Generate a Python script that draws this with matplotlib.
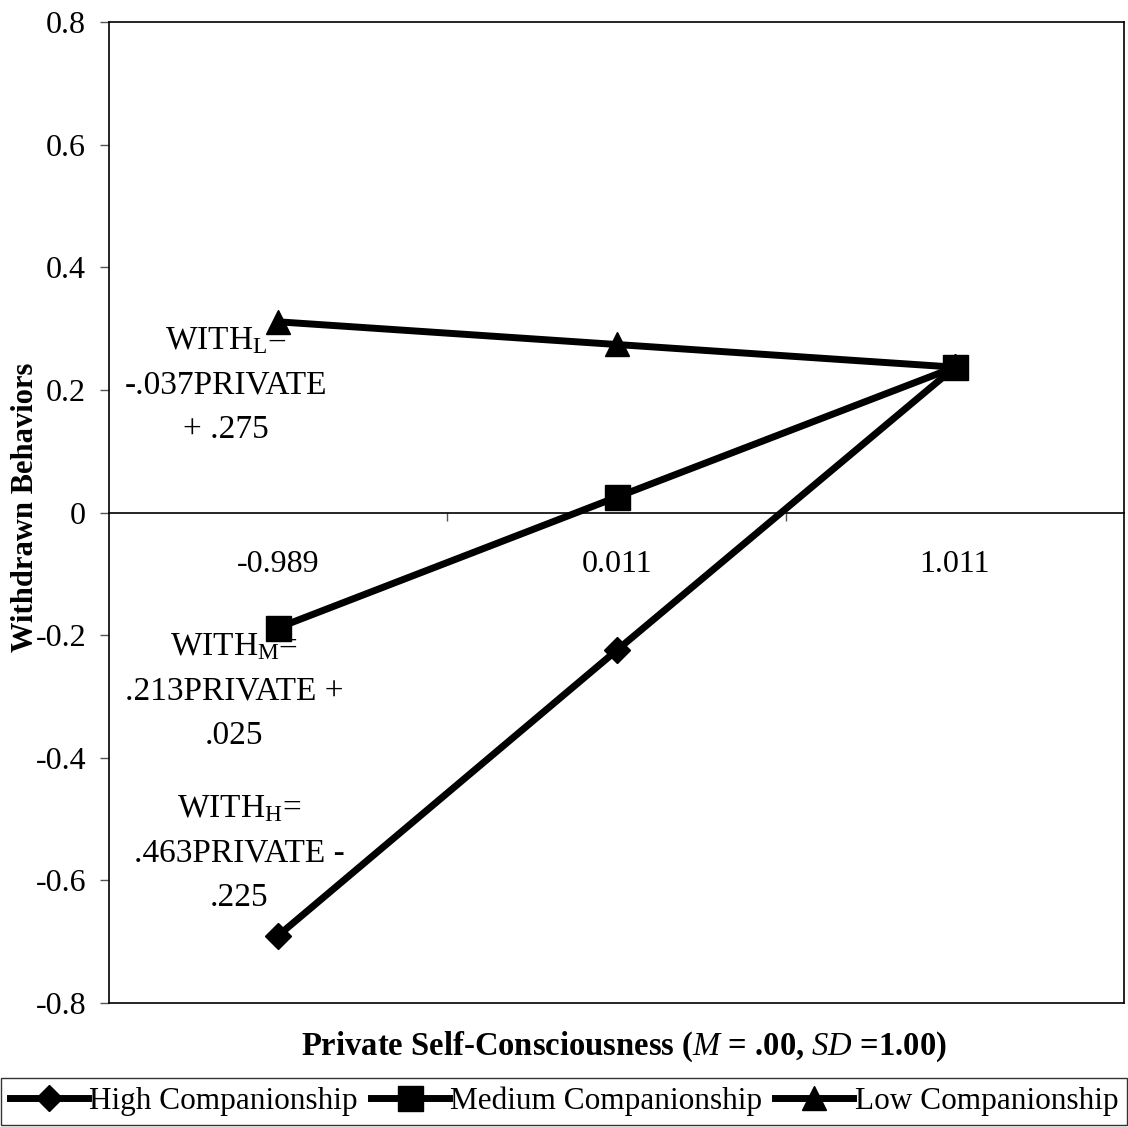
#!/usr/bin/env python3
# -*- coding: utf-8 -*-
#
# plot.py -- simple slopes of withdrawn behaviors by companionship level

import matplotlib
matplotlib.use("Agg")
from matplotlib import pyplot
from matplotlib.ticker import FixedLocator

pyplot.rcParams["font.family"] = ["Liberation Serif", "DejaVu Serif"]
pyplot.rcParams["mathtext.fontset"] = "custom"
pyplot.rcParams["mathtext.rm"] = "Liberation Serif"
pyplot.rcParams["mathtext.it"] = "Liberation Serif:italic"
pyplot.rcParams["mathtext.bf"] = "Liberation Serif:bold"

# --------------------------------------------------------------------------

levels = ["-0.989", "0.011", "1.011"]
high = [-0.690, -0.225, 0.237]
medium = [-0.188, 0.025, 0.237]
low = [0.311, 0.274, 0.237]

yticks = [-0.8, -0.6, -0.4, -0.2, 0.0, 0.2, 0.4, 0.6, 0.8]
yticklabels = ["-0.8", "-0.6", "-0.4", "-0.2", "0", "0.2", "0.4", "0.6", "0.8"]

equations = [
    ("WITH$_\\mathrm{L}$=\n-.037PRIVATE\n+ .275", -0.154, 0.208),
    ("WITH$_\\mathrm{M}$=\n.213PRIVATE +\n.025", -0.130, -0.291),
    ("WITH$_\\mathrm{H}$=\n.463PRIVATE -\n.225", -0.115, -0.556),
]

FS = 23
FS_TXT = 24
FS_LAB = 23.5
FS_LEG = 22.5

# --------------------------------------------------------------------------

fig = pyplot.figure(figsize=(11.28, 11.27), dpi=100)
ax = fig.add_axes([0.0966, 0.110, 0.9, 0.8705])

x = list(range(len(levels)))
ax.plot(x, low, color="black", lw=5, marker="^", ms=17, label="Low Companionship", zorder=2)
ax.plot(x, high, color="black", lw=5, marker="D", ms=13, label="High Companionship", zorder=3)
ax.plot(x, medium, color="black", lw=5, marker="s", ms=18, label="Medium Companionship", zorder=4)

ax.set_xlim(-0.5, 2.5)
ax.set_ylim(-0.8, 0.8)

# category axis sits on the zero line, box is closed at the bottom separately
ax.spines["bottom"].set_position(("data", 0))
ax.axhline(-0.8, color="black", lw=1.2, clip_on=False)
for s in ax.spines.values():
    s.set_linewidth(1.2)

ax.set_xticks(x)
ax.set_xticklabels(levels, fontsize=FS)
ax.xaxis.set_minor_locator(FixedLocator([0.5, 1.5]))
ax.tick_params(axis="x", which="major", length=0, pad=27)
ax.tick_params(axis="x", which="minor", direction="out", length=6, width=1, color="#555555")

ax.set_yticks(yticks)
ax.set_yticklabels(yticklabels, fontsize=FS)
ax.tick_params(axis="y", direction="out", length=6.5, width=1, color="#555555", pad=10)

fig.text(26/1128, 1 - 507/1127, "Withdrawn Behaviors", fontsize=22, fontweight="bold",
         rotation=90, ha="center", va="center")
fig.text(624/1128, 1 - 1047/1127, "Private Self-Consciousness ($\\mathbf{\\mathit{M}}$ = .00, $\\mathbf{\\mathit{SD}}$ =1.00)",
         fontsize=FS_LAB, fontweight="bold", ha="center", va="center")

for txt, tx, ty in equations:
    ax.text(tx, ty, txt, fontsize=FS_TXT, ha="center", va="center", linespacing=1.6, multialignment="center")

handles, labels = ax.get_legend_handles_labels()
order = [labels.index(n) for n in ["High Companionship", "Medium Companionship", "Low Companionship"]]
leg = fig.legend([handles[i] for i in order], [labels[i] for i in order],
                 loc="center", bbox_to_anchor=(0.5, 1 - 1101/1127), ncol=3, fontsize=FS_LEG,
                 frameon=True, fancybox=False, edgecolor="black", handlelength=2.5,
                 handletextpad=0.05, columnspacing=0.4, borderpad=0.28, borderaxespad=0)
leg.get_frame().set_linewidth(1.0)

fig.savefig("out.png", dpi=100)
